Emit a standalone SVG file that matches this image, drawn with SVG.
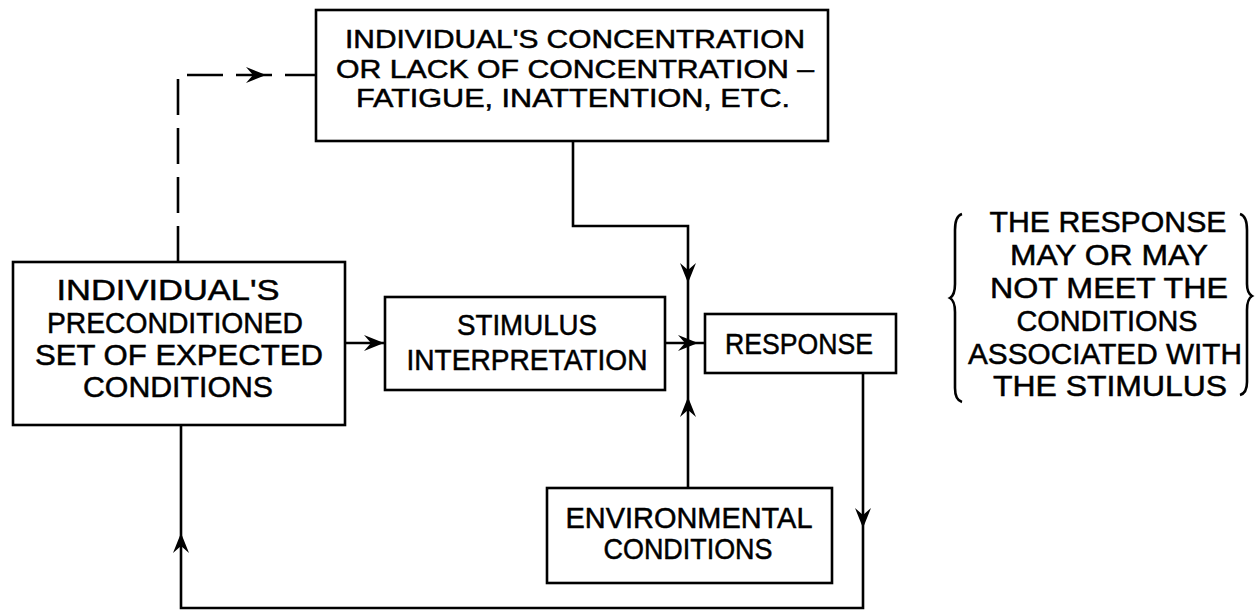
<svg xmlns="http://www.w3.org/2000/svg" xmlns:xlink="http://www.w3.org/1999/xlink" width="1256" height="610" viewBox="0 0 1256 610">
<style>
.box{fill:#fff;stroke:#000;stroke-width:2.6}
.ln{fill:none;stroke:#000;stroke-width:2.6}
.dash{fill:none;stroke:#000;stroke-width:2.6;stroke-dasharray:36 13}
text{font-family:"Liberation Sans",Arial,sans-serif;font-size:29px;fill:#000;stroke:#000;stroke-width:0.5;text-anchor:middle}
.sm{font-size:25.5px}
</style>
<defs>
<path id="ah" d="M0,0 L-20,-8 L-13,0 L-20,8 Z"/>
</defs>
<rect width="1256" height="610" fill="#fff"/>

<g id="connectors">
<path class="dash" d="M178,262 L178,75 L316,75"/>
<path class="ln" d="M573,141 L573,226 L688,226 L688,488"/>
<path class="ln" d="M345,343 L385,343"/>
<path class="ln" d="M665,343 L705,343"/>
<path class="ln" d="M863,373 L863,608 L181,608 L181,425"/>
<use xlink:href="#ah" href="#ah" transform="translate(266,75)"/>
<use xlink:href="#ah" href="#ah" transform="translate(384,343)"/>
<use xlink:href="#ah" href="#ah" transform="translate(698,343)"/>
<use xlink:href="#ah" href="#ah" transform="translate(688,283) rotate(90)"/>
<use xlink:href="#ah" href="#ah" transform="translate(688,397) rotate(-90)"/>
<use xlink:href="#ah" href="#ah" transform="translate(863,528) rotate(90)"/>
<use xlink:href="#ah" href="#ah" transform="translate(181,533) rotate(-90)"/>
</g>

<g id="concentration">
<rect class="box" x="316" y="10" width="512" height="131"/>
<text class="sm" x="575" y="48" textLength="460" lengthAdjust="spacingAndGlyphs">INDIVIDUAL'S  CONCENTRATION</text>
<text class="sm" x="575" y="77.5" textLength="478" lengthAdjust="spacingAndGlyphs">OR LACK OF CONCENTRATION –</text>
<text class="sm" x="573" y="107" textLength="434" lengthAdjust="spacingAndGlyphs">FATIGUE, INATTENTION, ETC.</text>
</g>

<g id="preconditioned">
<rect class="box" x="13" y="262" width="332" height="163"/>
<text x="168" y="300" textLength="223" lengthAdjust="spacingAndGlyphs">INDIVIDUAL'S</text>
<text x="175" y="333" textLength="256" lengthAdjust="spacingAndGlyphs">PRECONDITIONED</text>
<text x="179" y="365" textLength="288" lengthAdjust="spacingAndGlyphs">SET OF EXPECTED</text>
<text x="178" y="397" textLength="190" lengthAdjust="spacingAndGlyphs">CONDITIONS</text>
</g>

<g id="stimulus">
<rect class="box" x="385" y="297" width="280" height="93"/>
<text x="527" y="335" textLength="140" lengthAdjust="spacingAndGlyphs">STIMULUS</text>
<text x="527" y="370" textLength="241" lengthAdjust="spacingAndGlyphs">INTERPRETATION</text>
</g>

<g id="response">
<rect class="box" x="705" y="314" width="191" height="59"/>
<text x="799" y="354" textLength="148" lengthAdjust="spacingAndGlyphs">RESPONSE</text>
</g>

<g id="environmental">
<rect class="box" x="547" y="488" width="285" height="95"/>
<text x="689" y="528" textLength="247" lengthAdjust="spacingAndGlyphs">ENVIRONMENTAL</text>
<text x="688" y="559" textLength="169" lengthAdjust="spacingAndGlyphs">CONDITIONS</text>
</g>

<g id="note">
<path class="ln" d="M962,214 Q955,216 955,230 L955,284 Q955,295 950,298 Q955,301 955,312 L955,388 Q955,400 962,402"/>
<path class="ln" d="M1240,214 Q1247,216 1247,230 L1247,284 Q1247,293 1252,296 Q1247,299 1247,310 L1247,382 Q1247,393 1240,395"/>
<text x="1108" y="232" textLength="237" lengthAdjust="spacingAndGlyphs">THE  RESPONSE</text>
<text x="1109" y="265" textLength="198" lengthAdjust="spacingAndGlyphs">MAY  OR  MAY</text>
<text x="1109" y="298" textLength="238" lengthAdjust="spacingAndGlyphs">NOT  MEET  THE</text>
<text x="1107" y="331" textLength="181" lengthAdjust="spacingAndGlyphs">CONDITIONS</text>
<text x="1105" y="364" textLength="274" lengthAdjust="spacingAndGlyphs">ASSOCIATED  WITH</text>
<text x="1110" y="396" textLength="234" lengthAdjust="spacingAndGlyphs">THE  STIMULUS</text>
</g>
</svg>
